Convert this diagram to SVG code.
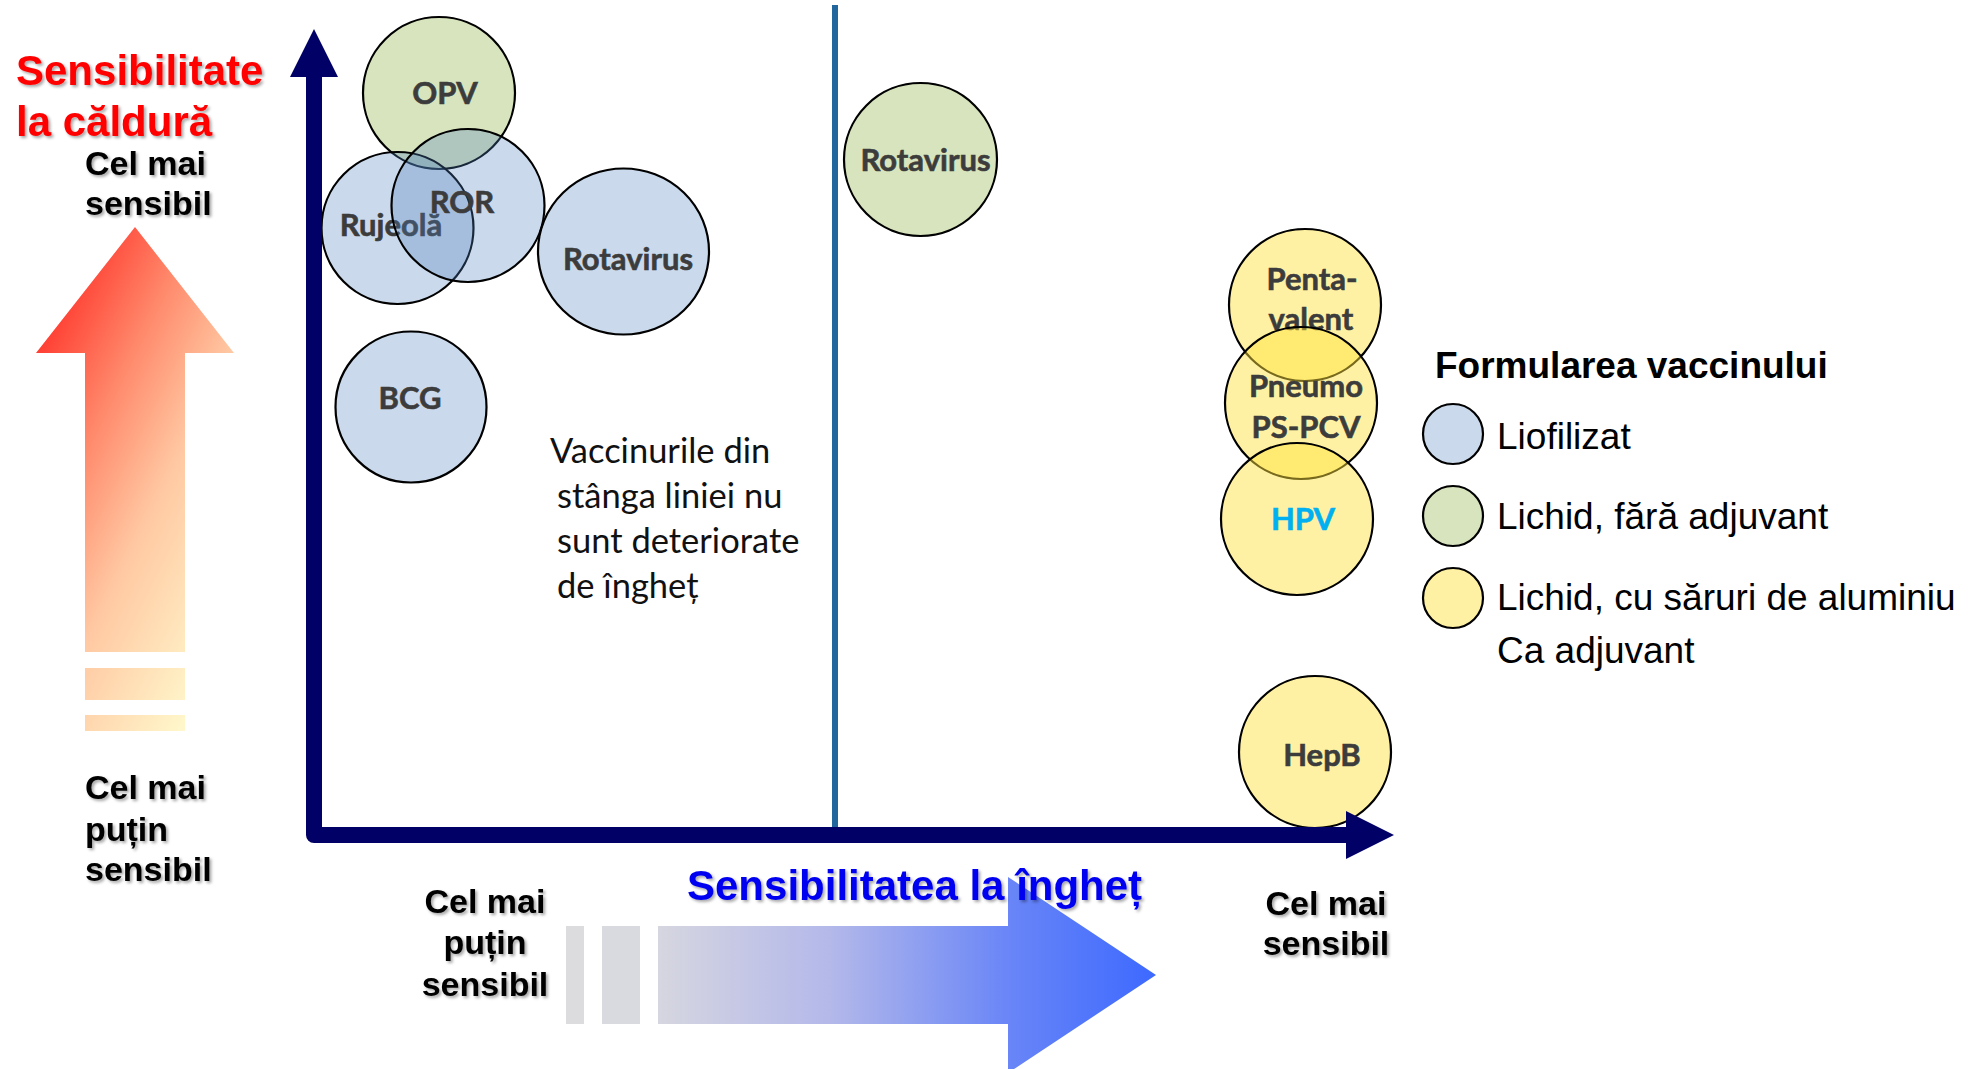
<svg xmlns="http://www.w3.org/2000/svg" width="1985" height="1069" viewBox="0 0 1985 1069">
  <defs>
    <style>
      .vac { stroke: #000; stroke-width: 2.2; }
      .lio { fill: #4F81BD; fill-opacity: 0.3; }
      .liq { fill: #9BBB59; fill-opacity: 0.4; }
      .alu { fill: #FFE13C; fill-opacity: 0.47; }
      .lbl { font-family: Lato, "Open Sans", sans-serif; font-weight: 700; font-size: 31px; fill: #3C3C3C; stroke: #3C3C3C; stroke-width: 0.6; text-anchor: middle; }
      .note { font-family: Lato, "Open Sans", sans-serif; font-size: 34.5px; fill: #111; }
      .axis-lbl { font-family: "Liberation Sans", Arial, sans-serif; font-weight: 700; font-size: 34px; fill: #000; filter: url(#shadow); }
      .title { font-family: "Liberation Sans", Arial, sans-serif; font-weight: 700; font-size: 42px; filter: url(#shadow); }
      .leg { font-family: "Liberation Sans", Arial, sans-serif; font-size: 37px; fill: #000; }
      .leg-head { font-family: "Liberation Sans", Arial, sans-serif; font-weight: 700; font-size: 37px; fill: #000; }
      .axis { fill: none; stroke: #000066; stroke-width: 16; stroke-linejoin: round; }
    </style>
    <filter id="shadow" x="-10%" y="-20%" width="120%" height="150%">
      <feDropShadow dx="2" dy="2" stdDeviation="1.5" flood-color="#000" flood-opacity="0.35"/>
    </filter>
    <marker id="head" markerUnits="userSpaceOnUse" markerWidth="48" markerHeight="48" viewBox="0 0 48 48" refX="0" refY="24" orient="auto-start-reverse">
      <path d="M0,0 L48,24 L0,48 Z" fill="#000066"/>
    </marker>
    <!-- heat scale: red at the top-left fading to pale yellow -->
    <linearGradient id="heat" gradientUnits="userSpaceOnUse" x1="166" y1="83" x2="440" y2="220">
      <stop offset="0" stop-color="#FF3B30"/>
      <stop offset="0.3" stop-color="#FF8A6C"/>
      <stop offset="0.58" stop-color="#FFC8A2"/>
      <stop offset="1" stop-color="#FFF8CC"/>
    </linearGradient>
    <!-- freeze scale: grey on the left to strong blue at the tip -->
    <linearGradient id="cold" gradientUnits="userSpaceOnUse" x1="658" y1="0" x2="1156" y2="0">
      <stop offset="0" stop-color="#D6D6E0"/>
      <stop offset="0.35" stop-color="#B3B8EA"/>
      <stop offset="0.7" stop-color="#6A86F7"/>
      <stop offset="1" stop-color="#3D69FF"/>
    </linearGradient>
  </defs>

  <rect width="1985" height="1069" fill="#fff"/>

  <!-- heat-sensitivity scale (left) -->
  <g id="heat-scale">
    <text class="title" fill="#FF0000" x="16" y="85">Sensibilitate</text>
    <text class="title" fill="#FF0000" x="16" y="136">la căldură</text>
    <text class="axis-lbl" x="85" y="175">Cel mai</text>
    <text class="axis-lbl" x="85" y="215">sensibil</text>
    <polygon points="36,353 135,227 234,353 185,353 185,652 85,652 85,353" fill="url(#heat)"/>
    <rect x="85" y="668" width="100" height="32" fill="url(#heat)"/>
    <rect x="85" y="715" width="100" height="16" fill="url(#heat)"/>
    <text class="axis-lbl" x="85" y="799">Cel mai</text>
    <text class="axis-lbl" x="85" y="841">puțin</text>
    <text class="axis-lbl" x="85" y="881">sensibil</text>
  </g>

  <!-- freeze-sensitivity scale (bottom) -->
  <g id="freeze-scale">
    <text class="axis-lbl" x="485" y="913" text-anchor="middle">Cel mai</text>
    <text class="axis-lbl" x="485" y="954" text-anchor="middle">puțin</text>
    <text class="axis-lbl" x="485" y="996" text-anchor="middle">sensibil</text>
    <rect x="566" y="926" width="18" height="98" fill="#DCDCDE"/>
    <rect x="602" y="926" width="38" height="98" fill="#D9D9E0"/>
    <polygon points="658,926 1008,926 1008,877 1156,975 1008,1073 1008,1024 658,1024" fill="url(#cold)"/>
    <text class="title" fill="#0000F0" x="687" y="900">Sensibilitatea la îngheț</text>
    <text class="axis-lbl" x="1326" y="915" text-anchor="middle">Cel mai</text>
    <text class="axis-lbl" x="1326" y="955" text-anchor="middle">sensibil</text>
  </g>

  <!-- freeze threshold line -->
  <line id="threshold" x1="835" y1="5" x2="835" y2="835" stroke="#21679E" stroke-width="6"/>

  <g id="note">
    <text class="note" x="550" y="463">Vaccinurile din</text>
    <text class="note" x="557" y="508">stânga liniei nu</text>
    <text class="note" x="557" y="553">sunt deteriorate</text>
    <text class="note" x="557" y="598">de îngheț</text>
  </g>

  <!-- vaccines -->
  <g id="opv">
    <circle class="vac liq" cx="439" cy="93" r="76"/>
    <text class="lbl" x="445" y="104">OPV</text>
  </g>
  <g id="rujeola">
    <circle class="vac lio" cx="397.5" cy="228" r="76"/>
    <text class="lbl" x="391" y="236">Rujeolă</text>
  </g>
  <g id="ror">
    <circle class="vac lio" cx="468" cy="205.5" r="76.5"/>
    <text class="lbl" x="462" y="213">ROR</text>
  </g>
  <g id="rotavirus-lio">
    <ellipse class="vac lio" cx="623.5" cy="251.5" rx="85.5" ry="83"/>
    <text class="lbl" x="628" y="270">Rotavirus</text>
  </g>
  <g id="bcg">
    <circle class="vac lio" cx="411" cy="407" r="75.5"/>
    <text class="lbl" x="410" y="409">BCG</text>
  </g>
  <g id="rotavirus-liq">
    <circle class="vac liq" cx="920.5" cy="159.5" r="76.5"/>
    <text class="lbl" x="925.5" y="171">Rotavirus</text>
  </g>
  <g id="pentavalent">
    <circle class="vac alu" cx="1305" cy="305" r="76"/>
    <text class="lbl" x="1312" y="290">Penta-</text>
    <text class="lbl" x="1311" y="330">valent</text>
  </g>
  <g id="pneumo">
    <circle class="vac alu" cx="1301" cy="403" r="76"/>
    <text class="lbl" x="1306" y="397">Pneumo</text>
    <text class="lbl" x="1306" y="438">PS-PCV</text>
  </g>
  <g id="hpv">
    <circle class="vac alu" cx="1297" cy="519" r="76"/>
    <text class="lbl" x="1303" y="530" style="fill:#00B0F0;stroke:#00B0F0">HPV</text>
  </g>
  <g id="hepb">
    <circle class="vac alu" cx="1315" cy="752" r="76"/>
    <text class="lbl" x="1322" y="766">HepB</text>
  </g>

  <!-- axes -->
  <g id="connectors">
    <path class="axis" d="M314,77 V835 H1346" marker-start="url(#head)" marker-end="url(#head)"/>
  </g>

  <!-- legend -->
  <g id="legend">
    <text class="leg-head" x="1435" y="378">Formularea vaccinului</text>
    <g id="legend-lio">
      <circle class="vac lio" cx="1453" cy="434" r="30"/>
      <text class="leg" x="1497" y="449">Liofilizat</text>
    </g>
    <g id="legend-liq">
      <circle class="vac liq" cx="1453" cy="516" r="30"/>
      <text class="leg" x="1497" y="529">Lichid, fără adjuvant</text>
    </g>
    <g id="legend-alu">
      <circle class="vac alu" cx="1453" cy="598" r="30"/>
      <text class="leg" x="1497" y="610">Lichid, cu săruri de aluminiu</text>
      <text class="leg" x="1497" y="663">Ca adjuvant</text>
    </g>
  </g>
</svg>
